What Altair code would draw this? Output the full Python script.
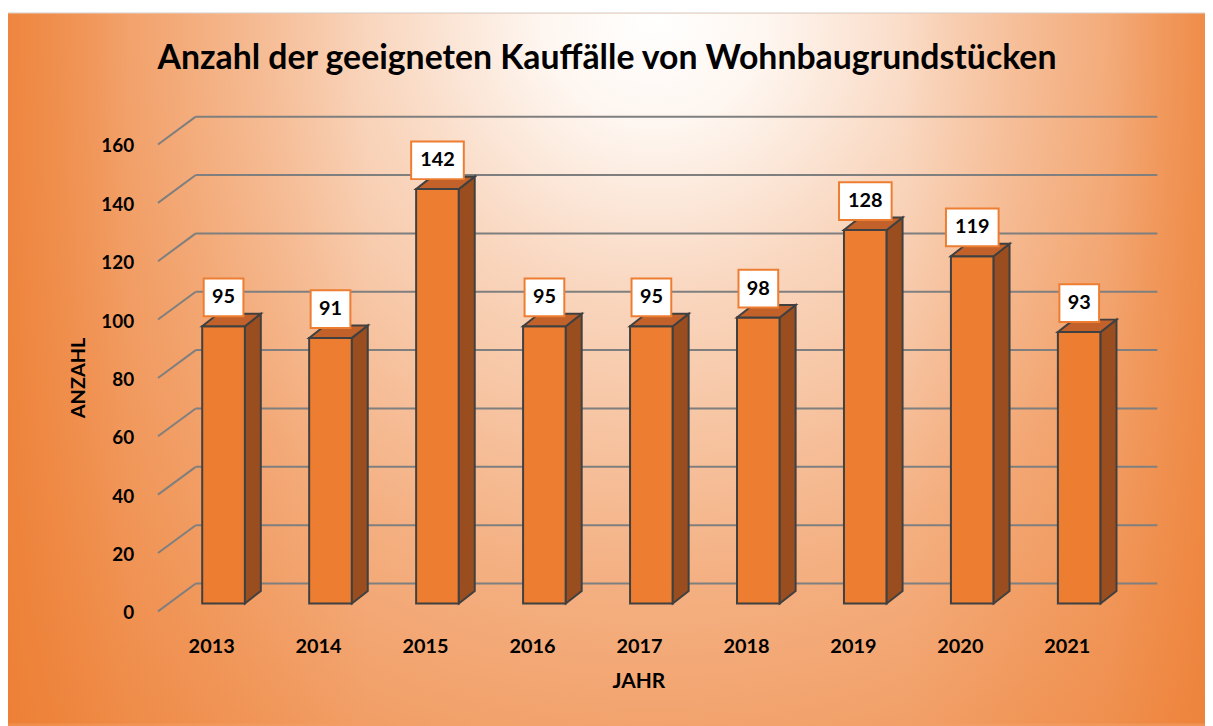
import altair as alt
import pandas as pd

# ---- data ----
years = [2013, 2014, 2015, 2016, 2017, 2018, 2019, 2020, 2021]
values = [95, 91, 142, 95, 95, 98, 128, 119, 93]
y_ticks = [0, 20, 40, 60, 80, 100, 120, 140, 160]
title_text = "Anzahl der geeigneten Kauffälle von Wohnbaugrundstücken"
x_title = "JAHR"
y_title = "ANZAHL"

# ---- styling / geometry (pixels) ----
W, H = 1205, 718
FONT = "Lato"
ORANGE = "#ED7D31"
SIDE = "#9A4E1F"
TOP = "#C2622A"
EDGE = "#404040"
GRID = "#7F7F7F"

X_RANGE = [217, 1078.4]      # centre of first / last bar front face
Y_RANGE = [597, 127]         # value 0 / 160 on the bar-front plane
px_per_year = (X_RANGE[1] - X_RANGE[0]) / (years[-1] - years[0])
px_per_unit = (Y_RANGE[0] - Y_RANGE[1]) / (y_ticks[-1] - y_ticks[0])
HW = 21.5 / px_per_year      # half front-face width in years
DX = 16 / px_per_year        # depth offset (x)
DY = 12.5 / px_per_unit      # depth offset (y)

xs = alt.Scale(domain=[years[0], years[-1]], range=X_RANGE, zero=False, nice=False)
ys = alt.Scale(domain=[y_ticks[0], y_ticks[-1]], range=Y_RANGE, zero=False, nice=False)

bars = pd.DataFrame({"year": years, "value": values})
bars["x1"] = bars["year"] - HW
bars["x2"] = bars["year"] + HW
bars["zero"] = 0
bars["label"] = bars["value"].astype(str)
bars["digits"] = bars["label"].str.len()

side_rows, top_rows = [], []
for yr, v in zip(years, values):
    side_rows.append({"year": yr, "x": yr + HW, "top": v, "bot": 0})
    side_rows.append({"year": yr, "x": yr + HW + DX, "top": v + DY, "bot": DY})
    top_rows.append({"year": yr, "y": v, "xa": yr - HW, "xb": yr + HW})
    top_rows.append({"year": yr, "y": v + DY, "xa": yr - HW + DX, "xb": yr + HW + DX})
side = pd.DataFrame(side_rows)
topf = pd.DataFrame(top_rows)
ticks = pd.DataFrame({"v": y_ticks, "label": [str(t) for t in y_ticks]})

one = pd.DataFrame({"a": [0]})

def oc(a):
    return f"rgba(237,125,49,{a})"

# ---- background: circular glow from top centre + orange side shading ----
bg = alt.Chart(one).mark_rect(
    fill={
        "gradient": "radial",
        "x1": 0.54, "y1": 0.0, "r1": 0.0,
        "x2": 0.54, "y2": 0.0, "r2": 0.95,
        "stops": [
            {"offset": 0.0, "color": "#FFFFFF"},
            {"offset": 0.1, "color": "#FEF6F0"},
            {"offset": 0.25, "color": "#F9D6BE"},
            {"offset": 0.5, "color": "#F4B082"},
            {"offset": 1.0, "color": ORANGE},
        ],
    },
    stroke=None,
).encode(x=alt.value(0), x2=alt.value(W), y=alt.value(3), y2=alt.value(3 + W))

sides = alt.Chart(one).mark_rect(
    fill={
        "gradient": "linear",
        "x1": 0, "y1": 0, "x2": 1, "y2": 0,
        "stops": [
            {"offset": 0.0, "color": oc(0.8)},
            {"offset": 0.1, "color": oc(0.35)},
            {"offset": 0.3, "color": oc(0)},
            {"offset": 0.75, "color": oc(0)},
            {"offset": 0.92, "color": oc(0.3)},
            {"offset": 1.0, "color": oc(0.7)},
        ],
    },
    stroke=None,
).encode(x=alt.value(0), x2=alt.value(W), y=alt.value(3), y2=alt.value(H))

frame = alt.Chart(one).mark_rule(color="#D9D9D9", strokeWidth=1).encode(
    x=alt.value(0), x2=alt.value(W), y=alt.value(2.5)
)

# ---- grid: back wall lines and floor diagonals ----
back = alt.Chart(ticks).mark_rule(color=GRID, strokeWidth=2, yOffset=-20, y2Offset=-20).encode(
    y=alt.Y("v:Q", scale=ys, axis=None), y2="v:Q",
    x=alt.value(189), x2=alt.value(1157),
)
diag = alt.Chart(ticks).mark_rule(color=GRID, strokeWidth=2, yOffset=8, y2Offset=-20).encode(
    y=alt.Y("v:Q", scale=ys, axis=None), y2="v:Q",
    x=alt.value(151), x2=alt.value(189),
)

# ---- 3D bars ----
front = alt.Chart(bars).mark_rect(fill=ORANGE, stroke=EDGE, strokeWidth=2).encode(
    x=alt.X("x1:Q", scale=xs, axis=None), x2="x2:Q",
    y=alt.Y("value:Q", scale=ys, axis=None), y2="zero:Q",
)
side_face = alt.Chart(side).mark_area(fill=SIDE, stroke=EDGE, strokeWidth=2, orient="vertical",
                                       fillOpacity=1).encode(
    x=alt.X("x:Q", scale=xs, axis=None),
    y=alt.Y("top:Q", scale=ys, axis=None), y2="bot:Q",
    detail="year:N",
)
top_face = alt.Chart(topf).mark_area(fill=TOP, stroke=EDGE, strokeWidth=2, orient="horizontal",
                                      fillOpacity=1).encode(
    y=alt.Y("y:Q", scale=ys, axis=None),
    x=alt.X("xa:Q", scale=xs, axis=None), x2="xb:Q",
    detail="year:N",
)

# ---- data labels ----
box2 = alt.Chart(bars).transform_filter("datum.digits <= 2").mark_rect(
    width=40, height=38, fill="white", stroke=ORANGE, strokeWidth=2, yOffset=-29
).encode(x=alt.X("year:Q", scale=xs, axis=None), y=alt.Y("value:Q", scale=ys, axis=None))
box3 = alt.Chart(bars).transform_filter("datum.digits > 2").mark_rect(
    width=53, height=38, fill="white", stroke=ORANGE, strokeWidth=2, yOffset=-29
).encode(x=alt.X("year:Q", scale=xs, axis=None), y=alt.Y("value:Q", scale=ys, axis=None))
val_text = alt.Chart(bars).mark_text(
    font=FONT, fontSize=20, fontWeight="bold", color="black", baseline="middle", yOffset=-29
).encode(x=alt.X("year:Q", scale=xs, axis=None), y=alt.Y("value:Q", scale=ys, axis=None), text="label:N")

# ---- axis texts ----
ytick_text = alt.Chart(ticks).mark_text(
    font=FONT, fontSize=19, fontWeight="bold", color="black", align="right", baseline="middle", yOffset=10
).encode(x=alt.value(127), y=alt.Y("v:Q", scale=ys, axis=None), text="label:N")
xtick_text = alt.Chart(bars).mark_text(
    font=FONT, fontSize=20, fontWeight="bold", color="black", align="center", baseline="middle", xOffset=-12
).encode(x=alt.X("year:Q", scale=xs, axis=None), y=alt.value(641), text="year:N")

title = alt.Chart(pd.DataFrame({"t": [title_text]})).mark_text(
    font=FONT, fontSize=34, fontWeight="bold", color="black", align="center", baseline="alphabetic"
).encode(x=alt.value(603), y=alt.value(59), text="t:N")
xt = alt.Chart(pd.DataFrame({"t": [x_title]})).mark_text(
    font=FONT, fontSize=21, fontWeight="bold", color="black", align="center", baseline="middle"
).encode(x=alt.value(635), y=alt.value(676), text="t:N")
yt = alt.Chart(pd.DataFrame({"t": [y_title]})).mark_text(
    font=FONT, fontSize=20, fontWeight="bold", color="black", align="center", baseline="middle", angle=270
).encode(x=alt.value(72), y=alt.value(370), text="t:N")

chart = alt.layer(
    bg, sides, frame, back, diag, front, side_face, top_face, box2, box3, val_text,
    ytick_text, xtick_text, title, xt, yt
).properties(
    width=W, height=H, padding=0,
    autosize=alt.AutoSizeParams(type="none"),
).configure_view(stroke=None)

chart.save("out.html", embed_options={"renderer": "svg", "actions": False})
